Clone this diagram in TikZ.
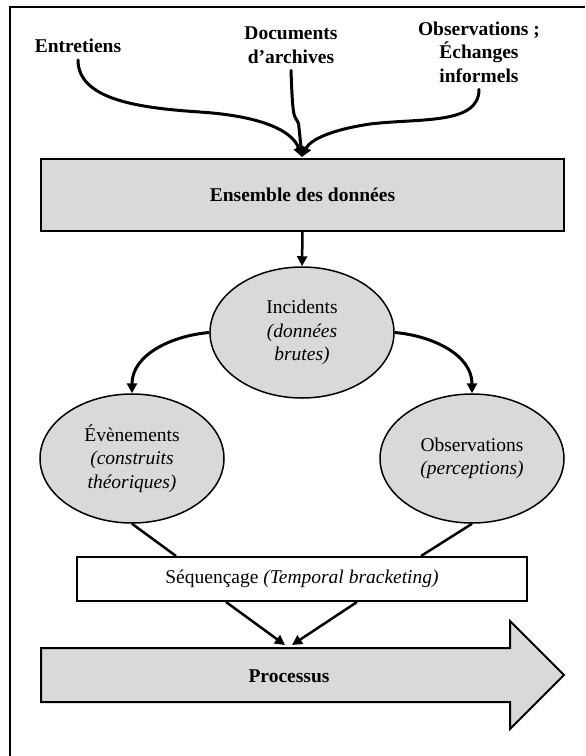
\documentclass[tikz,border=0pt]{standalone}
\usepackage{fontspec}
\setmainfont{Liberation Serif}
\usetikzlibrary{shapes.geometric,arrows.meta}
\definecolor{boxgray}{HTML}{D9D9D9}
\begin{document}
\begin{tikzpicture}[x=0.5pt, y=-0.5pt,
                font=\fontsize{9.75}{11.75}\selectfont,
                src/.style={font=\fontsize{9.75}{11.75}\selectfont\bfseries, align=center},
                graybox/.style={draw, line width=1pt, fill=boxgray},
                oval/.style={ellipse, draw, line width=0.75pt, fill=boxgray, align=center, inner sep=0pt, minimum width=92pt},
                arr/.style={-{Triangle[length=5pt,width=5pt]}},
                feed/.style={line width=1.5pt, line cap=round}]
                \useasboundingbox (0,0) rectangle (585,756);
                \draw[line width=1pt] (10,756) -- (10,7) -- (585,7);
                \node[src] (entr) at (78,46) {Entretiens};
                \node[src] (arch) at (291,45) {Documents\\d'archives};
                \node[src] (obsv) at (479,52) {Observations ;\\Échanges\\informels};
                \coordinate (merge) at (302,157);
                \draw[feed, arr] (entr.south) .. controls (78,100) and (140,108) .. (200,112)
                    .. controls (260,116) and (292,130) .. (merge);
                \draw[feed, arr] (arch.south) .. controls (292,100) and (293,110) .. (294,114)
                    .. controls (295,120) and (299,120) .. (299,128) -- (merge);
                \draw[feed, arr] (obsv.south) .. controls (479,125) and (420,118) .. (370,124)
                    .. controls (330,130) and (310,140) .. (merge);
                \node[graybox, font=\fontsize{9.75}{11.75}\selectfont\bfseries, minimum width=261.5pt, minimum height=36pt] (data) at (302.5,195) {Ensemble des données};
                \node[oval, minimum height=65.5pt] (incid) at (302,332.5) {Incidents\\\textit{(données}\\\textit{brutes)}};
                \node[oval, minimum height=64.5pt] (evts) at (132,458.5) {Évènements\\\textit{(construits}\\\textit{théoriques)}};
                \node[oval, minimum height=64.5pt] (obs) at (472,458.5) {Observations\\\textit{(perceptions)}};
                \draw[line width=1.25pt, arr] (data.south) -- (incid.north);
                \draw[line width=1.5pt, arr] (incid.west) to[out=185, in=90] (evts.north);
                \draw[line width=1.5pt, arr] (incid.east) to[out=-5, in=90] (obs.north);
                \node[draw, line width=1pt, fill=white, minimum width=225pt, minimum height=22pt] (seq) at (302,579) {Séquençage \textit{(Temporal bracketing)}};
                \draw[line width=1.25pt] (evts.south) -- ([xshift=50pt]seq.north west);
                \draw[line width=1.25pt] (obs.south) -- ([xshift=-53.5pt]seq.north east);
                \draw[graybox] (41,648) -- (510,648) -- (510,621) -- (564,675) -- (510,729) -- (510,702) -- (41,702) -- cycle;
                \node[font=\fontsize{9.75}{11.75}\selectfont\bfseries] (proc) at (289,676) {Processus};
                \coordinate (pin) at (289,645);
                \draw[line width=1.25pt, arr] ([xshift=75pt]seq.south west) -- ([xshift=-2pt]pin);
                \draw[line width=1.25pt, arr] ([xshift=-85.5pt]seq.south east) -- ([xshift=1.5pt]pin);
            \end{tikzpicture}
\end{document}
